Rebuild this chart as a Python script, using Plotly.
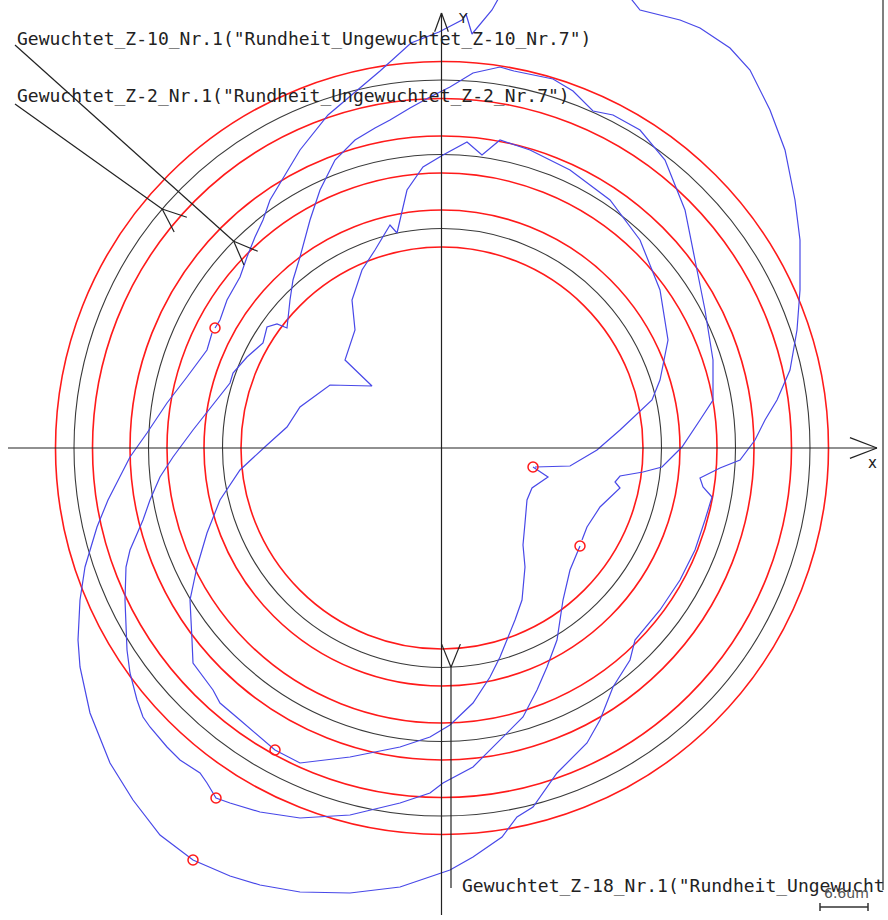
import numpy as np
import plotly.graph_objects as go

# ---------------- data (plot units, centre of the reference circles = 0,0) -------------
PROFILES = ["Z-2", "Z-10", "Z-18"]
REF_RADIUS = [368.0, 293.5, 219.5]      # mean (black) circle of each profile
BAND_HALF = [18.5, 18.5, 18.5]          # min / max (red) circles = mean -/+ band

LABELS = [
    'Gewuchtet_Z-2_Nr.1("Rundheit_Ungewuchtet_Z-2_Nr.7")',
    'Gewuchtet_Z-10_Nr.1("Rundheit_Ungewuchtet_Z-10_Nr.7")',
    'Gewuchtet_Z-18_Nr.1("Rundheit_Ungewucht',
]
SCALE_TEXT = "6.6um"
SCALE_LEN = 48.0

# outer profile (Z-2)
z2_x = [-227, -222, -215, -209, -202, -195, -187, -179, -172, -157, -142, -114, -86, -62, -31, -3, 20, 24, 30, 50,
        78, 158, 198, 238, 258, 288, 308, 328, 343, 353, 358, 358, 355, 348, 335, 323, 313, 298, 278, 258, 261, 270,
        263, 253, 238, 218, 193, 188, 171, 158, 145, 115, 91, 75, 60, 31, 8, -12, -42, -92, -142, -182, -212, -249,
        -282, -309, -332, -352, -362, -364, -362, -357, -345, -334, -312, -295, -275, -255, -235, -230]
z2_y = [120, 128, 148, 158, 171, 191, 211, 228, 248, 273, 298, 333, 357, 377, 405, 416, 428, 434, 414, 438,
        488, 488, 438, 428, 420, 400, 378, 338, 298, 248, 208, 158, 118, 78, 48, 28, 8, -12, -20, -30, -39, -49,
        -72, -102, -132, -162, -192, -212, -239, -272, -295, -325, -359, -369, -389, -409, -422, -429, -439, -445,
        -444, -437, -428, -412, -387, -352, -315, -265, -219, -192, -152, -119, -79, -52, -9, 15, 45, 71, 98, 115]
z2_mark_x = [-227, -249]
z2_mark_y = [120, -412]

# middle profile (Z-10)
z10_x = [138, 135, 128, 121, 115, 105, 95, 81, 58, 31, 1, -12, -42, -92, -142, -182, -212, -226, -235, -242, -262,
         -275, -292, -299, -305, -312, -315, -317, -316, -312, -299, -292, -282, -269, -249, -225, -212, -209, -195,
         -179, -175, -165, -155, -152, -149, -142, -132, -122, -107, -87, -67, -52, -32, -12, 8, 31, 58, 72, 111,
         131, 151, 171, 198, 223, 243, 253, 263, 271, 271, 258, 240, 220, 201, 178, 173, 178, 158, 145, 140]
z10_y = [-98, -105, -122, -152, -192, -219, -242, -269, -292, -319, -335, -345, -355, -367, -370, -364, -355, -350,
         -335, -325, -312, -299, -279, -269, -252, -225, -202, -152, -119, -102, -72, -52, -29, -9, 18, 48, 65, 75,
         91, 105, 121, 124, 120, 148, 168, 191, 228, 258, 288, 308, 320, 328, 340, 351, 361, 375, 381, 377, 369,
         357, 337, 333, 318, 288, 238, 188, 138, 88, 48, 28, 1, -19, -24, -28, -34, -40, -59, -79, -92]
z10_mark_x = [138, -226]
z10_mark_y = [-98, -350]

# inner profile (Z-18)
z18_x = [91, 106, 90, 85, 83, 81, 83, 80, 73, 65, 58, 48, 31, 8, -12, -42, -92, -142, -162, -167, -202, -222, -229,
         -249, -250, -252, -245, -235, -222, -202, -175, -155, -142, -112, -70, -97, -87, -90, -80, -67, -52, -45,
         -35, -19, 1, 25, 40, 58, 88, 128, 168, 198, 218, 226, 218, 210, 178, 155, 128, 93]
z18_y = [-19, -29, -40, -52, -75, -97, -119, -152, -172, -192, -209, -229, -255, -277, -289, -299, -309, -315, -305,
         -302, -272, -255, -242, -215, -192, -152, -119, -85, -52, -22, 3, 21, 41, 63, 62, 88, 118, 148, 178, 198,
         223, 215, 258, 281, 293, 306, 293, 308, 298, 278, 248, 208, 158, 108, 68, 48, 18, -2, -18, -19]
z18_mark_x = [91, -167]
z18_mark_y = [-19, -302]

TRACES_X = [z2_x, z10_x, z18_x]
TRACES_Y = [z2_y, z10_y, z18_y]
MARKS_X = [z2_mark_x, z10_mark_x, z18_mark_x]
MARKS_Y = [z2_mark_y, z10_mark_y, z18_mark_y]

# ---------------- layout constants -------------
W, H = 888, 920
X0, Y0 = 442, 448                      # pixel position of centre
XR = [-X0, W - X0]
YR = [Y0 - H, Y0]

RED = "#ff1a1a"
BLACK = "#3a3a3a"
BLUE = "#4848e8"
AXIS = "#222222"
MONO = "DejaVu Sans Mono"

fig = go.Figure()
shapes = []

# reference circles
for r, b in zip(REF_RADIUS, BAND_HALF):
    for rr, col, w in ((r - b, RED, 1.6), (r, BLACK, 1.1), (r + b, RED, 1.6)):
        shapes.append(dict(type="circle", xref="x", yref="y", x0=-rr, x1=rr, y0=-rr, y1=rr,
                           line=dict(color=col, width=w), layer="below"))


def seg(x0, y0, x1, y1, color=AXIS, width=1.2):
    shapes.append(dict(type="line", xref="x", yref="y", x0=x0, y0=y0, x1=x1, y1=y1,
                       line=dict(color=color, width=width)))


def barbs(tx, ty, ang_deg, length=26, spread=22, color=AXIS, width=1.2):
    for s in (-spread, spread):
        a = np.radians(ang_deg + s)
        seg(tx, ty, tx + length * np.cos(a), ty + length * np.sin(a), color, width)


# axes
seg(XR[0] + 8, 0, 435, 0)
barbs(435, 0, 180, length=29, spread=21)
seg(-0.5, YR[0] + 5, -0.5, Y0 - 13)
barbs(-0.5, Y0 - 13, -90, length=20, spread=20)

# right frame line
seg(441, YR[1], 441, -442, color="#555555", width=1.5)

# blue profiles
for tx, ty in zip(TRACES_X, TRACES_Y):
    fig.add_trace(go.Scatter(x=tx, y=ty, mode="lines", line=dict(color=BLUE, width=1.2),
                             hoverinfo="skip", showlegend=False))
for mx, my in zip(MARKS_X, MARKS_Y):
    fig.add_trace(go.Scatter(x=mx, y=my, mode="markers",
                             marker=dict(symbol="circle-open", size=10, color=RED, line=dict(width=1.5)),
                             hoverinfo="skip", showlegend=False))

# leader lines to the profiles
a2 = np.radians(139.5)
t2x, t2y = REF_RADIUS[0] * np.cos(a2), REF_RADIUS[0] * np.sin(a2)
seg(-427, 344, t2x, t2y)
barbs(t2x, t2y, -40.5)
a10 = np.radians(135.2)
t10x, t10y = REF_RADIUS[1] * np.cos(a10), REF_RADIUS[1] * np.sin(a10)
seg(-427, 403, t10x, t10y)
barbs(t10x, t10y, -44.8)
t18x = 9
t18y = -np.sqrt(REF_RADIUS[2] ** 2 - t18x ** 2)
seg(t18x, -440, t18x, t18y)
barbs(t18x, t18y, 90, length=25)

# scale bar
seg(378, -459, 426, -459, color="#333333", width=1.5)
seg(378, -455, 378, -463, color="#333333", width=1.5)
seg(426, -455, 426, -463, color="#333333", width=1.5)

TXT = dict(family=MONO, size=18, color="#222222")
annotations = [
    dict(x=-427, y=410, text=LABELS[1], xanchor="left", yanchor="middle", showarrow=False, font=TXT),
    dict(x=-427, y=353, text=LABELS[0], xanchor="left", yanchor="middle", showarrow=False, font=TXT),
    dict(x=18, y=-437, text=LABELS[2], xanchor="left", yanchor="middle", showarrow=False, font=TXT),
    dict(x=21, y=430, text="Y", xanchor="center", yanchor="middle", showarrow=False,
         font=dict(family="DejaVu Sans", size=14, color="#222222")),
    dict(x=430, y=-15, text="x", xanchor="center", yanchor="middle", showarrow=False,
         font=dict(family="DejaVu Sans", size=15, color="#222222")),
    dict(x=404, y=-445, text=SCALE_TEXT, xanchor="center", yanchor="middle", showarrow=False,
         font=dict(family="DejaVu Sans", size=14, color="#555555")),
]

fig.update_layout(
    width=W, height=H, margin=dict(l=0, r=0, t=0, b=0),
    paper_bgcolor="white", plot_bgcolor="white",
    xaxis=dict(range=XR, visible=False, fixedrange=True),
    yaxis=dict(range=YR, visible=False, fixedrange=True),
    shapes=shapes, annotations=annotations, showlegend=False,
)
fig.write_html("out.html", config={"displayModeBar": False},
               post_script="document.body.style.margin='0';document.body.style.overflow='hidden';")
